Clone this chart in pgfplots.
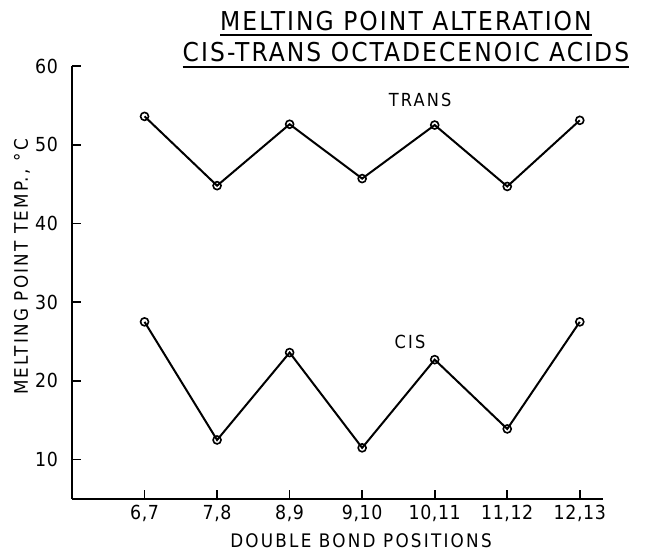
\documentclass[border=0pt]{standalone}
\usepackage{fontspec}
\setmainfont{DejaVu Sans Condensed}[LetterSpace=3]
\newfontfamily\titlefont{DejaVu Sans Condensed}[LetterSpace=8]
\newfontfamily\labfont{DejaVu Sans Condensed}[LetterSpace=12]
\usepackage{pgfplots}
\pgfplotsset{compat=1.18}
\newcommand\ul[1]{\leavevmode\vtop{\hbox{#1}\kern2.5pt\hrule height 1.5pt}}
\begin{document}
\begin{tikzpicture}
\useasboundingbox (-54pt,-39pt) rectangle (435.75pt,374.25pt);
\begin{axis}[
  scale only axis,
  width=398.25pt, height=324.75pt,
  xmin=-1, xmax=6.32, ymin=5, ymax=60,
  axis x line=bottom, axis y line=left,
  axis line style={line width=1.4pt, -},
  xtick={0,1,2,3,4,5,6},
  xticklabels={6{,}7,7{,}8,8{,}9,9{,}10,10{,}11,11{,}12,12{,}13},
  ytick={10,20,30,40,50,60},
  tick align=inside,
  major tick length=7pt,
  tick style={line width=1.2pt, black},
  /pgf/number format/assume math mode=true,
  ticklabel style={font=\fontsize{14.5}{15}\selectfont},
  xticklabel style={yshift=-1pt},
  yticklabel style={xshift=-7pt},
  clip=false,
]
\addplot[black, line width=1.5pt, mark=o, mark size=3pt, mark options={line width=1.2pt, fill=white}]
  coordinates {(0,53.6) (1,44.8) (2,52.6) (3,45.7) (4,52.5) (5,44.7) (6,53.1)};
\addplot[black, line width=1.5pt, mark=o, mark size=3pt, mark options={line width=1.2pt, fill=white}]
  coordinates {(0,27.5) (1,12.5) (2,23.6) (3,11.5) (4,22.7) (5,13.9) (6,27.5)};
\node[font=\labfont\fontsize{13.5}{14}\selectfont] at (axis cs:3.8,55.7) {TRANS};
\node[font=\labfont\fontsize{13.5}{14}\selectfont] at (axis cs:3.66,25.0) {CIS};
\end{axis}
\node[anchor=base, font=\titlefont\fontsize{19.5}{20}\selectfont] at (250.5pt,351.75pt) {\ul{MELTING POINT ALTERATION}};
\node[anchor=base, font=\titlefont\fontsize{19.5}{20}\selectfont] at (250.5pt,327.75pt) {\ul{CIS-TRANS OCTADECENOIC ACIDS}};
\node[anchor=base, font=\labfont\fontsize{14}{15}\selectfont] at (216.75pt,-36pt) {DOUBLE BOND POSITIONS};
\node[rotate=90, font=\labfont\fontsize{14}{15}\selectfont] at (-37.5pt,174pt) {MELTING POINT TEMP., °C};
\end{tikzpicture}
\end{document}
